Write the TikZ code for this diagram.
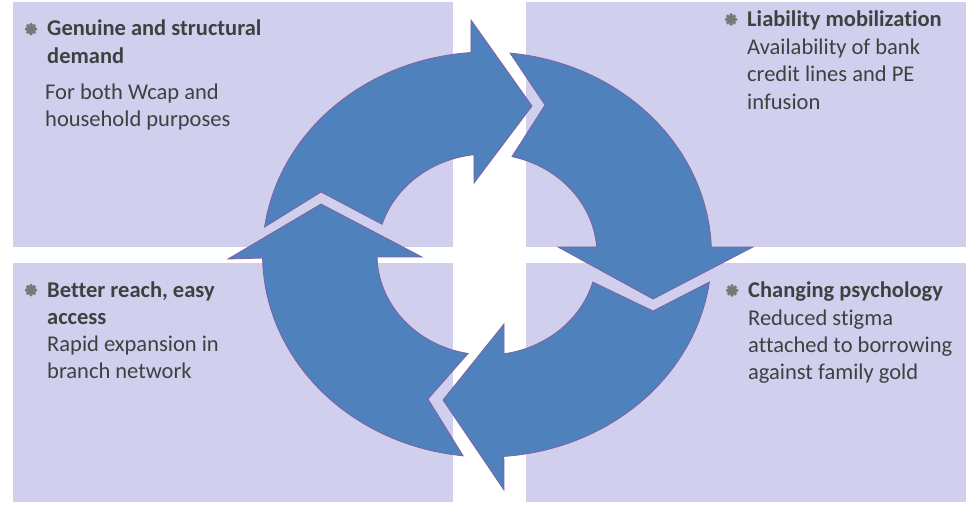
\documentclass[tikz,border=0pt]{standalone}
\usepackage{fontspec}
\setmainfont{Carlito}[Ligatures={NoCommon}]
\definecolor{panel}{RGB}{208,208,238}
\definecolor{arrowblue}{RGB}{79,129,189}
\definecolor{arrowedge}{RGB}{128,96,160}
\definecolor{txt}{RGB}{64,64,64}
\definecolor{bul}{RGB}{120,120,120}
\tikzset{
  panelbox/.style={fill=panel, draw=none},
  cyclearrow/.style={fill=arrowblue, draw=arrowedge, line width=0.8pt, line join=miter},
  headtxt/.style={anchor=base west, inner sep=0pt, text=txt, font=\fontsize{22.5}{27.5}\selectfont\bfseries},
  bodytxt/.style={anchor=base west, inner sep=0pt, text=txt, font=\fontsize{22.5}{27.5}\selectfont},
  bulletmark/.style={circle, fill=bul, inner sep=0pt, minimum size=8.5pt},
}
\newcommand{\gearbullet}[2]{%
  \node[bulletmark] (#1) at #2 {};
  \foreach \a in {0,45,...,315}{\fill[bul] (#1.center) ++(\a:4.6) circle[radius=1.9];}%
}
\begin{document}
\begin{tikzpicture}[x=1pt,y=-1pt]
\useasboundingbox (0,0) rectangle (969,504);
% panels
\path[panelbox] (13,2) rectangle (453,247);
\path[panelbox] (526,2) rectangle (966,247);
\path[panelbox] (13,263) rectangle (453,502);
\path[panelbox] (526,263) rectangle (966,502);
% cycle arrows (ellipse centre 487,254.5; outer 224.5x202.5; inner 110x100.5)
% top arrow
\filldraw[cyclearrow]
  plot[domain=172.2:94.1, samples=40, variable=\t] ({487+224.5*cos(\t)},{254.5-202.5*sin(\t)})
  -- (471,20) -- (532,106) -- (474,183)
  -- plot[domain=96.8:162.5, samples=30, variable=\t] ({487+110*cos(\t)},{254.5-100.5*sin(\t)})
  -- (321,192) -- cycle;
% right arrow
\filldraw[cyclearrow]
  plot[domain=84.1:2.1, samples=40, variable=\t] ({487+224.5*cos(\t)},{254.5-202.5*sin(\t)})
  -- (753,247) -- (653,299) -- (558,247)
  -- plot[domain=4.3:76.9, samples=30, variable=\t] ({487+110*cos(\t)},{254.5-100.5*sin(\t)})
  -- (545,105) -- cycle;
% bottom arrow
\filldraw[cyclearrow]
  plot[domain=-7.8:-85.7, samples=40, variable=\t] ({487+224.5*cos(\t)},{254.5-202.5*sin(\t)})
  -- (504,490) -- (443,400) -- (504,324)
  -- plot[domain=-81.1:-15.9, samples=30, variable=\t] ({487+110*cos(\t)},{254.5-100.5*sin(\t)})
  -- (653,311) -- cycle;
% left arrow
\filldraw[cyclearrow]
  plot[domain=263.9:181.0, samples=40, variable=\t] ({487+224.5*cos(\t)},{254.5-202.5*sin(\t)})
  -- (228,259) -- (321,204) -- (422,257)
  -- plot[domain=181.4:260.1, samples=30, variable=\t] ({487+110*cos(\t)},{254.5-100.5*sin(\t)})
  -- (428,399) -- cycle;
% bullets
\gearbullet{bu1}{(31,29)}
\gearbullet{bu2}{(731,19.5)}
\gearbullet{bu3}{(31,290)}
\gearbullet{bu4}{(732,290.5)}
% top-left
\node[headtxt] (tl1) at (47,35.5) {Genuine and structural};
\node[headtxt] (tl2) at (47,63) {demand};
\node[bodytxt] (tl3) at (45,99) {For both Wcap and};
\node[bodytxt] (tl4) at (45,126.5) {household purposes};
% top-right
\node[headtxt] (tr1) at (747,26) {Liability mobilization};
\node[bodytxt] (tr2) at (747,54) {Availability of bank};
\node[bodytxt] (tr3) at (747,81.5) {credit lines and PE};
\node[bodytxt] (tr4) at (747,109) {infusion};
% bottom-left
\node[headtxt] (bl1) at (47,297) {Better reach, easy};
\node[headtxt] (bl2) at (47,324) {access};
\node[bodytxt] (bl3) at (47,351) {Rapid expansion in};
\node[bodytxt] (bl4) at (47,378.5) {branch network};
% bottom-right
\node[headtxt] (br1) at (748,297.5) {Changing psychology};
\node[bodytxt] (br2) at (748,325) {Reduced stigma};
\node[bodytxt] (br3) at (748,352.5) {attached to borrowing};
\node[bodytxt] (br4) at (748,379.5) {against family gold};
\end{tikzpicture}
\end{document}
